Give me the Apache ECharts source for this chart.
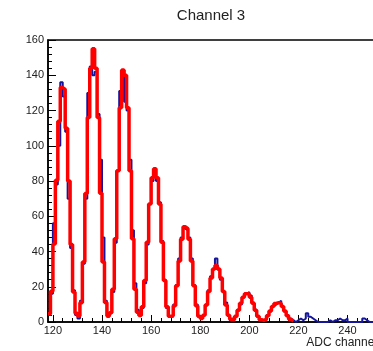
<!DOCTYPE html>
<html>
<head>
<meta charset="utf-8">
<script src="https://cdn.jsdelivr.net/npm/echarts@6/dist/echarts.min.js"></script>
<style>
  html, body { margin: 0; padding: 0; background: #fff; }
  #chart { width: 373px; height: 351px; }
</style>
</head>
<body>
<div id="chart"></div>
<script>
// Histogram of ADC counts, one bin per channel, first bin starting at channel 118
const binStart = 118;
const counts = [
  4, 16, 56, 78, 100, 136, 128, 108, 70, 42,
  18, 4, 2, 12, 33, 70, 130, 145, 140, 142,
  118, 92, 48, 12, 3, 5, 17, 45, 86, 131,
  141, 125, 120, 92, 52, 22, 7, 4, 8, 22,
  44, 67, 80, 86, 80, 68, 46, 24, 8, 3,
  3, 10, 21, 36, 48, 53, 52, 48, 36, 21,
  10, 3, 2, 4, 10, 18, 26, 30, 36, 30,
  24, 17, 11, 4, 1, 1, 3, 7, 10, 14,
  16, 17, 15, 11, 7, 3, 1, 1, 2, 4,
  6, 9, 10, 11, 12, 9, 6, 4, 2, 1,
  0, 1, 2, 1, 2, 5, 3, 2, 1, 0,
  0, 0, 0, 0, 1, 0, 1, 1, 2, 1,
  1, 2, 0, 0, 0, 0, 0, 0, 2, 1,
  0, 0, 0, 0
];

// Multi-peak fit, evaluated per bin over channels 118-217
const fitValues = [
  4.7, 17.4, 44.2, 80.4, 113.9, 133.0, 132.0, 110.0, 80.0, 44.0,
  17.0, 5.0, 3.4, 10.9, 34.1, 72.9, 116.0, 144.0, 155.0, 144.0,
  116.0, 73.0, 34.0, 11.1, 3.4, 5.3, 18.6, 47.2, 85.8, 121.6,
  143.0, 140.0, 121.6, 85.8, 47.2, 18.6, 5.5, 3.7, 8.7, 23.5,
  45.2, 67.0, 81.8, 87.0, 81.8, 67.0, 45.2, 23.5, 8.7, 3.3,
  3.5, 9.2, 20.5, 34.6, 47.0, 54.0, 53.0, 47.0, 34.6, 20.5,
  9.2, 3.3, 2.0, 3.8, 9.6, 17.3, 25.0, 30.1, 32.0, 30.1,
  25.0, 17.3, 9.6, 3.8, 1.6, 1.4, 3.2, 6.6, 10.6, 14.1,
  16.0, 16.0, 14.1, 10.6, 6.6, 3.2, 1.3, 0.9, 1.5, 3.6,
  6.3, 8.8, 10.5, 11.0, 10.5, 8.8, 6.3, 3.6, 1.5, 0.6
];

const xRange = [118, 252];
const xMajorTicks = [120, 140, 160, 180, 200, 220, 240];
const xMinorTicks = [120, 124, 128, 132, 136, 140, 144, 148, 152, 156, 160, 164, 168, 172,
  176, 180, 184, 188, 192, 196, 200, 204, 208, 212, 216, 220, 224, 228, 232, 236, 240,
  244, 248, 252];
const yRange = [0, 160];
const yStep = 20;

// Turn per-bin values into step-line points: one point per lower bin edge plus the last upper edge
function toSteps(values, start) {
  const pts = values.map((v, i) => [start + i, v]);
  pts.push([start + values.length, values[values.length - 1]]);
  return pts;
}

const labelFont = { fontFamily: 'Liberation Sans, Arial, sans-serif', fontSize: 11, color: '#222' };

const chart = echarts.init(document.getElementById('chart'), null, { renderer: 'canvas' });
chart.setOption({
  animation: false,
  backgroundColor: '#fff',
  title: {
    text: 'Channel 3',
    left: 211,
    top: 8,
    padding: 0,
    textAlign: 'center',
    textStyle: { fontFamily: 'Liberation Sans, Arial, sans-serif', fontSize: 15, fontWeight: 'normal', color: '#222' }
  },
  grid: {
    left: 48, top: 40, bottom: 29, width: 329,
    containLabel: false, outerBoundsMode: 'none',
    show: true, borderColor: '#000', borderWidth: 1.5, backgroundColor: 'transparent'
  },
  xAxis: [
    {
      type: 'value', min: xRange[0], max: xRange[1], position: 'bottom',
      name: 'ADC channel', nameLocation: 'end', nameGap: 0,
      nameTextStyle: { fontFamily: 'Liberation Sans, Arial, sans-serif', fontSize: 12, color: '#222',
        align: 'right', verticalAlign: 'top', padding: [15, 0, 0, 0] },
      axisLine: { show: true, onZero: false, lineStyle: { color: '#000', width: 1.5 } },
      axisTick: { show: true, inside: true, length: 7, customValues: xMajorTicks, lineStyle: { color: '#000', width: 1 } },
      axisLabel: Object.assign({ margin: 3, customValues: xMajorTicks }, labelFont),
      splitLine: { show: false }
    },
    {
      type: 'value', min: xRange[0], max: xRange[1], position: 'bottom',
      axisLine: { show: false },
      axisTick: { show: true, inside: true, length: 4, customValues: xMinorTicks, lineStyle: { color: '#000', width: 1 } },
      axisLabel: { show: false },
      splitLine: { show: false }
    }
  ],
  yAxis: {
    type: 'value', min: yRange[0], max: yRange[1], interval: yStep,
    axisLine: { show: true, onZero: false, lineStyle: { color: '#000', width: 1.5 } },
    axisTick: { show: true, inside: true, length: 8, lineStyle: { color: '#000', width: 1 } },
    minorTick: { show: true, splitNumber: 5, length: 4, lineStyle: { color: '#000', width: 1 } },
    axisLabel: Object.assign({ margin: 4 }, labelFont),
    splitLine: { show: false }
  },
  series: [
    {
      name: 'counts', type: 'line', step: 'end', xAxisIndex: 0,
      data: toSteps(counts, binStart),
      showSymbol: false, symbol: 'none',
      lineStyle: { color: '#14149c', width: 2 },
      z: 2
    },
    {
      name: 'fit', type: 'line', step: 'end', xAxisIndex: 0,
      data: toSteps(fitValues, binStart),
      showSymbol: false, symbol: 'none',
      lineStyle: { color: '#ff0000', width: 3.5 },
      z: 3
    }
  ]
});
</script>
</body>
</html>
